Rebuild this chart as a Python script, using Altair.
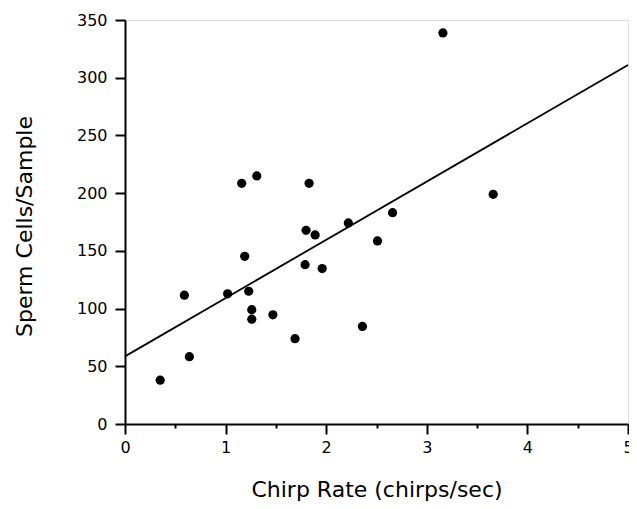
import altair as alt
import pandas as pd

chirp_rate = [0.35, 0.59, 0.64, 1.02, 1.16, 1.19, 1.23, 1.26, 1.26, 1.31, 1.47,
              1.69, 1.79, 1.80, 1.83, 1.89, 1.96, 2.22, 2.36, 2.51, 2.66, 3.16, 3.66]
sperm_cells = [38, 111.6, 58.3, 112.8, 208.5, 145.3, 115, 99, 90.8, 214.9, 94.6,
               73.9, 138, 167.8, 208.5, 163.8, 134.7, 174.2, 84.5, 158.6, 183.1, 338.8, 199]

fit_x = [0, 5]
fit_y = [58.6, 311]

x_ticks = [0, 0.5, 1, 1.5, 2, 2.5, 3, 3.5, 4, 4.5, 5]
y_ticks = [0, 25, 50, 75, 100, 125, 150, 175, 200, 225, 250, 275, 300, 325, 350]

pts = pd.DataFrame({"x": chirp_rate, "y": sperm_cells})
fit = pd.DataFrame({"x": fit_x, "y": fit_y})

FONT = "DejaVu Sans"

x_axis = alt.Axis(
    values=x_ticks,
    labelExpr="datum.value % 1 === 0 ? format(datum.value, 'd') : ''",
    tickSize={"condition": {"test": "datum.value % 1 === 0", "value": 10}, "value": 4},
    tickWidth=2, tickColor="black", domainWidth=2, domainColor="black",
    labelFont=FONT, labelFontSize=16, labelColor="black", labelPadding=5,
    grid=False, title="Chirp Rate (chirps/sec)", titleFont=FONT, titleFontSize=22,
    titleFontWeight="normal", titleColor="black", titleBaseline="alphabetic", titleY=72,
    labelFlush=False, labelOverlap=False,
)
y_axis = alt.Axis(
    values=y_ticks,
    labelExpr="datum.value % 50 === 0 ? format(datum.value, 'd') : ''",
    tickSize={"condition": {"test": "datum.value % 50 === 0", "value": 10}, "value": 4},
    tickWidth=2, tickColor="black", domainWidth=2, domainColor="black",
    labelFont=FONT, labelFontSize=16, labelColor="black", labelPadding=8,
    grid=False, title="Sperm Cells/Sample", titleFont=FONT, titleFontSize=22,
    titleFontWeight="normal", titleColor="black", titleBaseline="alphabetic",
    titleX=-94, titleY=206, titleAngle=-90,
    labelFlush=False, labelOverlap=False,
)

xs = alt.Scale(domain=[0, 5], nice=False, zero=False)
ys = alt.Scale(domain=[0, 350], nice=False, zero=False)

points = alt.Chart(pts).mark_circle(size=85, color="black", opacity=1).encode(
    x=alt.X("x:Q", scale=xs, axis=x_axis),
    y=alt.Y("y:Q", scale=ys, axis=y_axis),
)
line = alt.Chart(fit).mark_line(color="black", strokeWidth=1.8).encode(
    x=alt.X("x:Q", scale=xs),
    y=alt.Y("y:Q", scale=ys),
)

chart = alt.layer(line, points).properties(
    width=503, height=404,
    autosize=alt.AutoSizeParams(type="none"),
    padding={"left": 117, "top": 12, "right": 1, "bottom": 77},
).configure_view(stroke="black", strokeWidth=1.5).configure(background="white")

chart.save("out.html", embed_options={"renderer": "svg", "actions": False})
